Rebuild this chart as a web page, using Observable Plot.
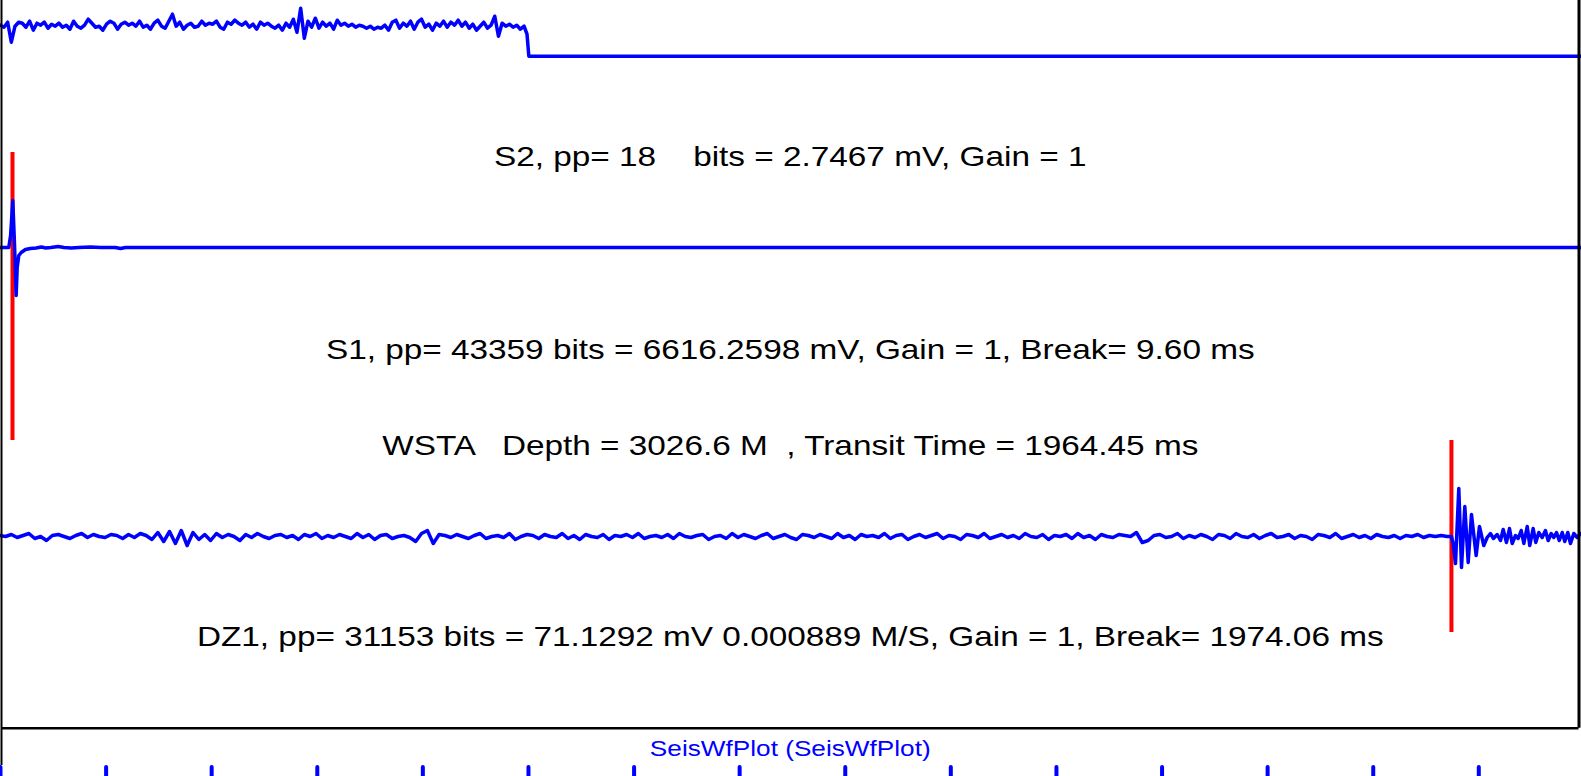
<!DOCTYPE html>
<html><head><meta charset="utf-8">
<script src="https://cdn.jsdelivr.net/npm/d3@7"></script>
<script src="https://cdn.jsdelivr.net/npm/@observablehq/plot@0.6"></script>
<style>html,body{margin:0;padding:0;background:#fff;overflow:hidden}</style>
</head><body><div id="chart"></div>
<script>
// ---------------- data ----------------
// S2 trace: sampled noise (start -7 ms, step 5 ms), then zero tail
const s2Start = -7, s2Step = 5;
const s2Noise = [31,29,34,14,30,34,33,29,35,26, 33,31,34,28,32,30,33,29,31,27,
  35,30,28,31,37,33,29,30,26,32, 35,33,27,32,34,31,33,30,35,29,
  31,27,33,36,30,28,35,42,30,34, 27,31,33,29,30,35,31,33,32,35,
  29,27,34,32,36,33,31,34,29,32, 27,34,31,33,30,28,31,26,33,29,
  37,24,48,18,35,29,38,28,34,30, 33,27,36,31,33,30,32,29,31,30,
  28,30,27,29,28,31,26,34,36,28, 33,30,35,27,34,37,29,32,26,33,
  30,35,29,34,31,36,30,34,28,32, 26,30,34,28,31,40,20,33,30,32,
  29,31,27,30];
const s2TailTime = [712, 714.5, 2152];
const s2TailAmp  = [22, 0, 0];

// S1 trace
const s1Time = [-7, 4.5, 7, 10, 12.5, 14.6, 16, 18.2, 21.5, 27.3, 34, 42, 49, 55, 62, 72, 80, 90, 100, 116, 130, 150, 157, 164, 2152];
const s1Amp  = [0, 0, 12, 47, 0, -48, -20, -8, -5, -2, -1, -0.5, 0.5, -0.5, 0, 1, 0, -0.5, 0, 0.5, 0, 0, -1, 0, 0];

// DZ1 trace: sampled noise (start -8 ms, step 8 ms), then arrival
const dz1Start = -8, dz1Step = 8;
const dz1Noise = [1,0,2,-1,1,3,-2,0,-4,1, 2,0,-2,1,3,-1,2,0,-1,2,
  1,-2,2,-1,3,1,-3,4,-5,5, -7,6,-9,4,-3,2,-4,3,-1,2,
  0,-4,2,-1,3,0,-2,1,2,-1, 1,-3,2,0,3,-2,1,-1,2,0,
  -2,3,-1,2,-3,1,2,-2,0,1, -1,-5,3,6,-7,2,1,-1,2,0,
  -2,1,3,-2,0,1,-1,3,-3,0, 2,1,-2,2,0,-1,3,-2,1,-3,
  2,0,-1,2,-3,1,0,2,-1,3, -2,0,1,-1,2,-2,3,0,-1,1,
  2,-3,0,1,-2,3,-1,2,0,-2, 1,3,-2,0,2,-1,-3,2,1,-1,
  2,0,-2,3,-1,1,-3,2,0,1, -1,3,-2,1,2,-3,0,2,-1,1,
  3,-2,1,0,-3,2,1,-1,3,-2, 0,2,-1,1,-2,3,0,-1,2,-3,
  1,0,2,-2,3,-1,1,-3,2,0, -1,2,1,0,4,-6,-4,1,2,-1,
  0,3,-2,1,-1,2,0,-3,2,1, -2,3,0,-1,2,-2,1,3,-1,0,
  2,-2,1,0,-3,2,1,-1,3,-2, 0,2,-1,1,-2,2,0,-1,1,-2,
  1,0,2,-1,1,0,1,0];
const dz1PostTime = [1974, 1976.4, 1979.6, 1984.1, 1987.8, 1992.3, 1996.9, 2001.4, 2007.8, 2012.3,
  2018.2, 2022.8, 2027.3, 2031.4, 2036.5, 2041.0, 2044.7, 2049.2, 2053.3, 2057.0,
  2061.5, 2065.2, 2069.3, 2072.9, 2077.5, 2081.0, 2085.6, 2089.2, 2093.3, 2097.9,
  2102.4, 2106.1, 2110.2, 2113.8, 2117.5, 2121.2, 2125.3, 2128.8, 2132.9, 2136.6,
  2141.1, 2145.8, 2150.3];
const dz1PostAmp = [0, -7, -27, 48, -31, 30, -26, 22, -19, 10,
  -9, -1, 3, -2, 2, -4, 7, -6, 8, -7,
  1, -2, 6, -7, 10, -9, 8, -6, 4, -1,
  6, -4, 3, -1, 4, -4, 4, -5, 4, -7,
  3, -1, 3];

// first-break picks (ms)
const breakTrace = ["S1", "DZ1"];
const breakTime = [9.60, 1974.06];

// label texts
const labelText = [
  "S2, pp= 18    bits = 2.7467 mV, Gain = 1",
  "S1, pp= 43359 bits = 6616.2598 mV, Gain = 1, Break= 9.60 ms",
  "WSTA   Depth = 3026.6 M  , Transit Time = 1964.45 ms",
  "DZ1, pp= 31153 bits = 71.1292 mV 0.000889 M/S, Gain = 1, Break= 1974.06 ms"
];
const titleText = "SeisWfPlot (SeisWfPlot)";

// time ticks of the panel below (ms)
const tickTimes = [-6.8, 137.4, 281.5, 425.7, 569.8, 714.0, 858.2, 1002.3, 1146.5, 1290.6, 1434.8, 1579.0, 1723.1, 1867.3, 2011.4];

// ---------------- layout ----------------
const W = 1581, H = 776;
const xDomain = [-5.42, 2148.2];
const yTop = 747.7;
const base = {S2: 672, S1: 480.7, DZ1: 191.7};
const breakSpan = {S1: [95, -193], DZ1: [96, -96]};
const labelY = [562.7, 369.7, 273.7, 82.7];
const BLUE = "#0000ff", RED = "#ff0000";
const FONT = "'Liberation Sans', Arial, Helvetica, sans-serif";

// build tables
const s2 = s2Noise.map((a, i) => ({t: s2Start + i * s2Step, a}))
  .concat(s2TailTime.map((t, i) => ({t, a: s2TailAmp[i]})));
const s1 = s1Time.map((t, i) => ({t, a: s1Amp[i]}));
const dz1 = dz1Noise.map((a, i) => ({t: dz1Start + i * dz1Step, a}))
  .concat(dz1PostTime.map((t, i) => ({t, a: dz1PostAmp[i]})));
const picks = breakTrace.map((k, i) => ({k, t: breakTime[i]}));
const labels = labelText.map((s, i) => ({s, y: labelY[i]}));

const trace = (data, key) => Plot.line(data, {x: "t", y: d => base[key] + d.a, stroke: BLUE, strokeWidth: 3.5, strokeLinejoin: "round"});

const chart = Plot.plot({
  width: W, height: H,
  marginLeft: 1, marginRight: 2.5, marginTop: -20, marginBottom: 48.3,
  x: {domain: xDomain, axis: null},
  y: {domain: [0, yTop], axis: null},
  style: {background: "white", overflow: "visible"},
  marks: [
    Plot.ruleX(picks, {x: "t", y1: d => base[d.k] + breakSpan[d.k][0], y2: d => base[d.k] + breakSpan[d.k][1], stroke: RED, strokeWidth: 4}),
    trace(s2, "S2"),
    trace(s1, "S1"),
    trace(dz1, "DZ1"),
    Plot.ruleX([xDomain[0]], {y1: -37.3, y2: yTop, stroke: "black", strokeWidth: 2}),
    Plot.ruleX([xDomain[1]], {y1: 0, y2: yTop, stroke: "black", strokeWidth: 3}),
    Plot.ruleY([0], {x1: xDomain[0], x2: xDomain[1], stroke: "black", strokeWidth: 2.5}),
    Plot.ruleX(tickTimes, {y1: -39.3, y2: -52, stroke: BLUE, strokeWidth: 4, strokeLinecap: "round"}),
    Plot.text(labels, {text: "s", y: "y", frameAnchor: "middle", lineAnchor: "bottom", fontSize: 28, fontFamily: FONT, fill: "black"}),
    Plot.text([titleText], {text: d => d, y: [-27.3], frameAnchor: "middle", lineAnchor: "bottom", fontSize: 22, fontFamily: FONT, fill: BLUE})
  ]
});
document.getElementById("chart").appendChild(chart);
chart.querySelectorAll("text").forEach(t => {
  t.style.whiteSpace = "pre";
  t.setAttribute("xml:space", "preserve");
  const len = t.getComputedTextLength();
  t.setAttribute("textLength", (len * 1.19).toFixed(1));
  t.setAttribute("lengthAdjust", "spacingAndGlyphs");
});
</script>
</body></html>
